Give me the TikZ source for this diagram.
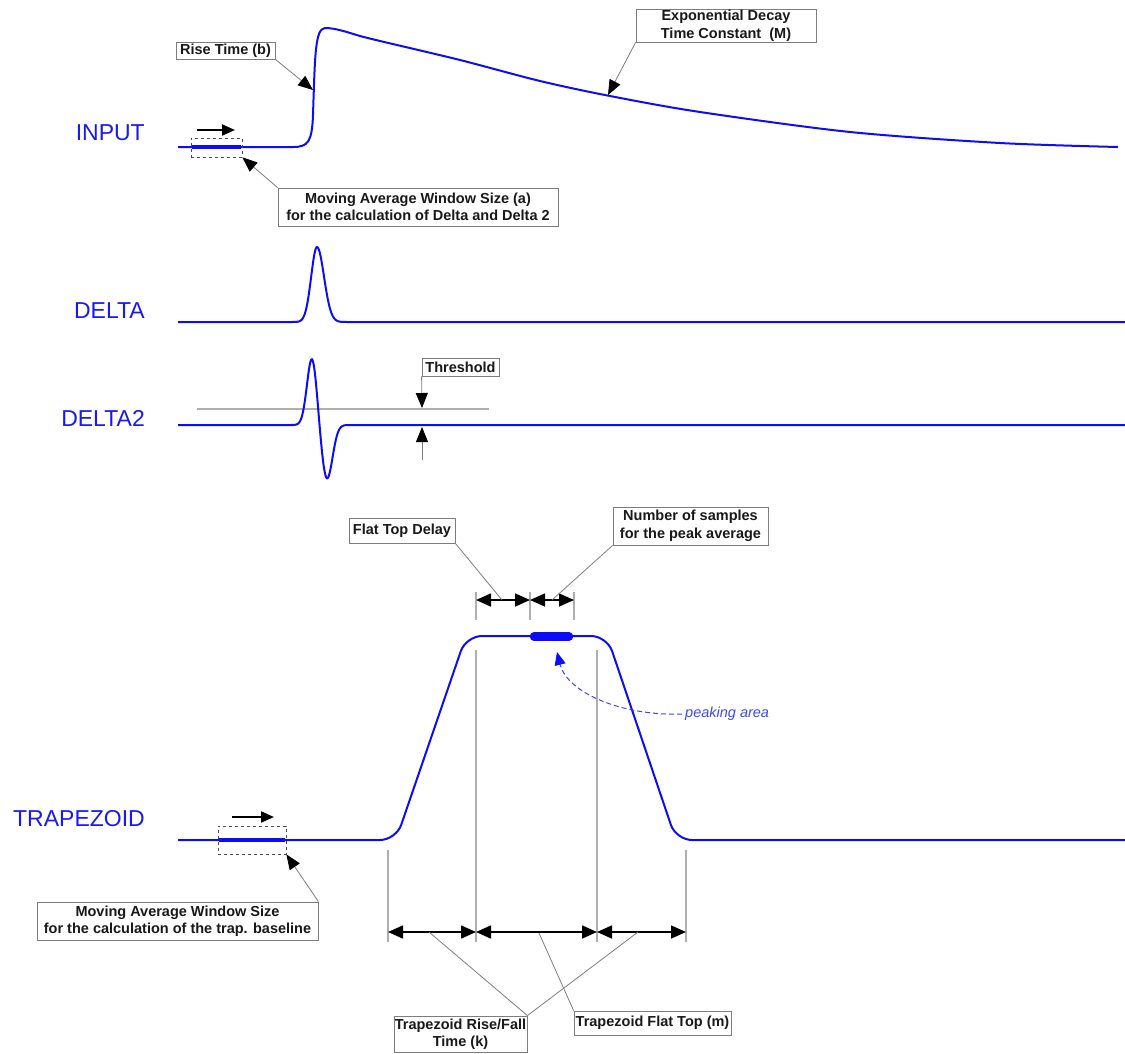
\documentclass[tikz,border=0pt]{standalone}
\usepackage{fontspec}
\setmainfont{Liberation Sans}
\usetikzlibrary{arrows.meta}
\definecolor{wblue}{RGB}{12,12,250}
\definecolor{tblue}{RGB}{25,25,240}
\definecolor{pblue}{RGB}{60,70,250}
\definecolor{lgray}{RGB}{175,175,175}
\definecolor{bgray}{RGB}{125,125,125}
\begin{document}
\begin{tikzpicture}[x=1pt,y=-1pt,
  wave/.style={wblue, line width=2pt},
  lbl/.style={draw=bgray, line width=0.8pt, fill=white, font=\bfseries\fontsize{14.5}{17.5}\selectfont, align=center, inner sep=0pt, text=black!90},
  big/.style={anchor=base east, inner sep=0pt, text=tblue, font=\fontsize{23}{23}\selectfont},
  leader/.style={draw=bgray, line width=0.8pt},
  ltip/.style={leader, -{Triangle[length=15pt,width=12pt,color=black]}},
  guide/.style={draw=lgray, line width=1.4pt},
  dimarrow/.style={black, line width=1.7pt, {Triangle[length=15pt,width=13pt]}-{Triangle[length=15pt,width=13pt]}},
  mvarrow/.style={black, line width=2pt, -{Triangle[length=13pt,width=11pt]}},
  window/.style={draw=black!70, dashed, line width=0.7pt, inner sep=0pt},
  thick window/.style={wblue, line width=4.5pt},
]
\useasboundingbox (0,0) rectangle (1125,1053);

% ---------- big labels ----------
\node[big] (lin) at (145,140) {INPUT};
\node[big] (ldl) at (145,318) {DELTA};
\node[big] (ld2) at (145,426) {DELTA2};
\node[big] (ltr) at (145,826) {TRAPEZOID};

% ---------- INPUT ----------
\draw[wave] (178,147) -- (293,147) .. controls (308,147) and (312,142) .. (313,115)
  .. controls (315,55) and (315,29) .. (325,28)
  .. controls (336,28) and (348,32.5) .. (360,36)
  -- plot[smooth] coordinates {(360,36) (380,41) (460,60) (540,81) (610,96) (700,112) (850,132) (1000,143) (1118,147)};
\draw[thick window] (192,147) -- (241,147);
\node[window, minimum width=51pt, minimum height=19pt] (win1) at (216.5,147.5) {};
\coordinate (m1a) at (197,130);
\coordinate (m1b) at (235,130);
\draw[mvarrow] (m1a) -- (m1b);

\node[lbl, minimum width=99pt, minimum height=17pt] (rise) at (225.5,50.5) {Rise Time (b)};
\coordinate (riseT) at (313,90);
\draw[ltip] (rise.south east) -- (riseT);

\node[lbl, minimum width=180pt, minimum height=33pt] (expd) at (726,25.5) {Exponential Decay\\Time Constant~~(M)};
\coordinate (expT) at (608,95);
\draw[ltip] (expd.south west) -- (expT);

\node[lbl, minimum width=280pt, minimum height=38pt] (ma1) at (418,207) {Moving Average Window Size (a)\\for the calculation of Delta and Delta 2};
\draw[ltip] (ma1.north west) -- (win1.south east);

% ---------- DELTA ----------
\draw[wave] (178,322) -- (292,322)
  -- plot[domain=292:352, samples=90, smooth] (\x, {322-75*exp(-((\x-317)^2)/(2*(\x<317 ? 5.8 : 7)^2))})
  -- (1125,322);

% ---------- DELTA2 ----------
\draw[guide] (197,409) -- (489,409);
\draw[wave] (178,425) -- (292,425)
  -- plot[domain=292:352, samples=100, smooth] (\x, {425-67*exp(-((\x-312)^2)/50)+54*exp(-((\x-327)^2)/60.5)})
  -- (1125,425);
\node[lbl, minimum width=77pt, minimum height=18pt] (thr) at (460.5,367) {Threshold};
\coordinate (thrA) at (422,408);
\coordinate (thrB) at (422,460);
\coordinate (thrC) at (422,427);
\draw[ltip] (thr.south west) -- (thrA);
\draw[ltip] (thrB) -- (thrC);

% ---------- TRAPEZOID ----------
% guides
\draw[guide] (476,592) -- (476,620);
\draw[guide] (530,592) -- (530,620);
\draw[guide] (574,592) -- (574,620);
\draw[guide] (476,650) -- (476,942);
\draw[guide] (597,650) -- (597,942);
\draw[guide] (388,850) -- (388,942);
\draw[guide] (686,850) -- (686,942);

\draw[wave, rounded corners=16pt] (178,840) -- (396,840) -- (466,636) -- (607,636) -- (676,840) -- (1125,840);
\draw[wblue, line width=8.5pt, line cap=round] (534,636.5) -- (569,636.5);

\draw[thick window] (219,840) -- (285,840);
\node[window, minimum width=68pt, minimum height=28pt] (win2) at (252,840) {};
\coordinate (m2a) at (232,817);
\coordinate (m2b) at (274,817);
\draw[mvarrow] (m2a) -- (m2b);

\node[lbl, minimum width=281pt, minimum height=38pt] (ma2) at (177.5,921) {Moving Average Window Size\\for the calculation of the trap. baseline};
\draw[ltip] (ma2.north east) -- (win2.south east);

% top dimensions
\coordinate (t1) at (476,600);
\coordinate (t2) at (530,600);
\coordinate (t3) at (574,600);
\draw[dimarrow] (t1) -- (t2);
\draw[dimarrow] (t2) -- (t3);
\node[lbl, minimum width=106pt, minimum height=25pt] (ftd) at (402,530.5) {Flat Top Delay};
\node[lbl, minimum width=155pt, minimum height=38pt] (nsa) at (690.5,526) {Number of samples\\for the peak average};
\coordinate (ftdT) at (502,600);
\coordinate (nsaT) at (552,600);
\draw[leader] (ftd.south east) -- (ftdT);
\draw[leader] (nsa.south west) -- (nsaT);

% bottom dimensions
\coordinate (b1) at (388,932);
\coordinate (b2) at (476,932);
\coordinate (b3) at (597,932);
\coordinate (b4) at (686,932);
\draw[dimarrow] (b1) -- (b2);
\draw[dimarrow] (b2) -- (b3);
\draw[dimarrow] (b3) -- (b4);
\node[lbl, minimum width=133pt, minimum height=36pt] (rf) at (460.5,1034) {Trapezoid Rise/Fall\\Time (k)};
\node[lbl, minimum width=157pt, minimum height=24pt] (ftop) at (652.5,1023) {Trapezoid Flat Top (m)};
\coordinate (rfA) at (429,932);
\coordinate (rfB) at (638,932);
\coordinate (ftT) at (539,933);
\draw[leader] (rf.north east) -- (rfA);
\draw[leader] (rf.north east) -- (rfB);
\draw[leader] (ftop.north west) -- (ftT);

% peaking area
\node[anchor=west, inner sep=0pt, text=pblue, font=\itshape\fontsize{14.5}{14.5}\selectfont] (pk) at (685,714) {peaking area};
\coordinate (pkT) at (557,652);
\draw[pblue, line width=1pt, dash pattern=on 5pt off 3pt, shorten <=3pt, -{Triangle[length=13pt,width=11pt,color=wblue]}] (pk.west) .. controls (620,716) and (567,692) .. (pkT);
\end{tikzpicture}
\end{document}
